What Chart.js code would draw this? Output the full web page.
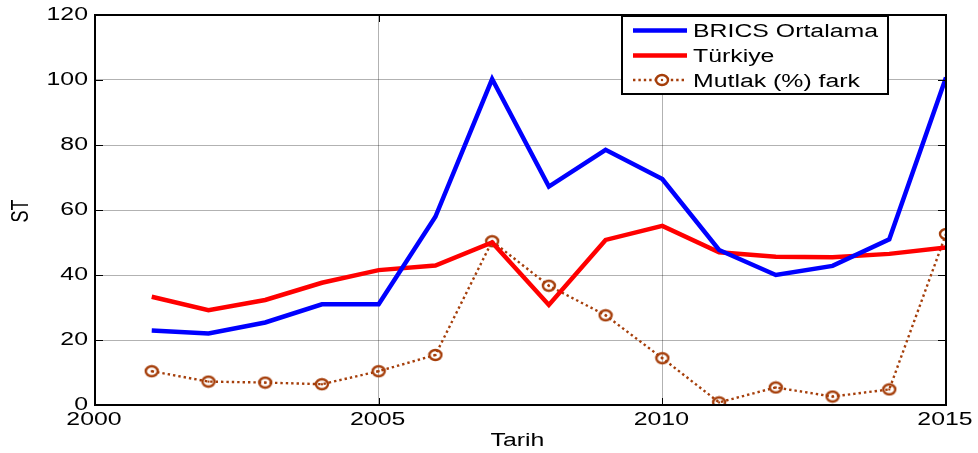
<!DOCTYPE html>
<html lang="tr">
<head>
<meta charset="UTF-8">
<title>BRICS - Türkiye</title>
<style>
  body { margin: 0; background: #fff; }
  #wrap { width: 978px; height: 453px; }
</style>
</head>
<body>
<div id="wrap"><canvas id="chart" width="978" height="453"></canvas></div>
<script src="https://cdn.jsdelivr.net/npm/chart.js"></script>
<script>
// data
var years = [2001, 2002, 2003, 2004, 2005, 2006, 2007, 2008, 2009, 2010, 2011, 2012, 2013, 2014, 2015]
var brics = [22.9, 22.0, 25.4, 31.0, 31.0, 57.9, 100.3, 67.2, 78.5, 69.5, 47.7, 40.0, 42.8, 51.0, 100.8]
var turkiye = [33.3, 29.2, 32.3, 37.6, 41.5, 42.9, 50.0, 30.8, 50.8, 55.1, 47.0, 45.6, 45.5, 46.5, 48.5]
var fark = [10.4, 7.2, 6.9, 6.4, 10.4, 15.4, 50.4, 36.7, 27.6, 14.4, 0.8, 5.4, 2.6, 4.8, 52.6]
var seriesNames = ['BRICS Ortalama', 'Türkiye', 'Mutlak (%) fark']
var xTicks = [2000, 2005, 2010, 2015]
var yTicks = [0, 20, 40, 60, 80, 100, 120]

var brown = 'rgb(165,62,10)'
var FONT = '18px "Liberation Sans", Arial, Helvetica, sans-serif'
var SX = 1.38   // the original picture is stretched sideways, text too

function pts(vals) {
  return vals.map(function (v, i) { return { x: years[i], y: v } })
}

// open (slightly wide) circle with a small dot inside, like matlab's 'o' marker
function makeMarker() {
  var c = document.createElement('canvas')
  c.width = 16; c.height = 14
  var g = c.getContext('2d')
  g.strokeStyle = brown
  g.lineWidth = 2.4
  g.beginPath(); g.ellipse(8, 7, 6, 5, 0, 0, Math.PI * 2); g.stroke()
  g.fillStyle = brown
  g.beginPath(); g.arc(8, 7, 1.2, 0, Math.PI * 2); g.fill()
  return c
}
var marker = makeMarker()

// stretched text helper
function txt(ctx, s, x, y, align, rot) {
  ctx.save()
  ctx.translate(x, y)
  ctx.scale(SX, 1)
  if (rot) ctx.rotate(rot)
  ctx.textAlign = align
  ctx.textBaseline = 'alphabetic'
  ctx.fillText(s, 0, 0)
  ctx.restore()
}

// box round the plot, inward ticks, tick labels and axis titles
var axesPlugin = {
  id: 'axes',
  afterDatasetsDraw: function (chart) {
    var ctx = chart.ctx, a = chart.chartArea
    var xs = chart.scales.x, ys = chart.scales.y
    ctx.save()
    ctx.strokeStyle = '#000'
    ctx.lineWidth = 1
    xTicks.forEach(function (t) {
      var px = Math.round(xs.getPixelForValue(t)) + 0.5
      ctx.beginPath()
      ctx.moveTo(px, a.bottom); ctx.lineTo(px, a.bottom - 7)
      ctx.moveTo(px, a.top); ctx.lineTo(px, a.top + 7)
      ctx.stroke()
    })
    yTicks.forEach(function (t) {
      var py = Math.round(ys.getPixelForValue(t)) + 0.5
      ctx.beginPath()
      ctx.moveTo(a.left, py); ctx.lineTo(a.left + 8, py)
      ctx.moveTo(a.right, py); ctx.lineTo(a.right - 8, py)
      ctx.stroke()
    })
    ctx.lineWidth = 2
    ctx.strokeRect(a.left, a.top, a.right - a.left, a.bottom - a.top)

    ctx.fillStyle = '#000'
    ctx.font = FONT
    xTicks.forEach(function (t) {
      txt(ctx, String(t), xs.getPixelForValue(t) - 1, a.bottom + 20, 'center')
    })
    yTicks.forEach(function (t) {
      txt(ctx, String(t), a.left - 7, ys.getPixelForValue(t) + 5, 'right')
    })
    txt(ctx, 'Tarih', (a.left + a.right) / 2 - 3, a.bottom + 41, 'center')
    txt(ctx, 'ST', 28, (a.top + a.bottom) / 2 + 1, 'center', -Math.PI / 2)
    ctx.restore()
  }
}

// matlab style legend in the top right corner
var legendPlugin = {
  id: 'mlegend',
  afterDraw: function (chart) {
    var ctx = chart.ctx
    var x0 = 622, y0 = 16, w = 266, h = 78
    ctx.save()
    ctx.fillStyle = '#fff'
    ctx.fillRect(x0, y0, w, h)
    ctx.strokeStyle = '#000'
    ctx.lineWidth = 2
    ctx.strokeRect(x0, y0, w, h)
    var rows = [30.5, 55.5, 80]
    ctx.font = FONT
    chart.data.datasets.forEach(function (ds, i) {
      var y = rows[i]
      ctx.strokeStyle = ds.borderColor
      ctx.lineWidth = ds.borderWidth
      ctx.setLineDash(ds.borderDash || [])
      ctx.beginPath(); ctx.moveTo(633, y); ctx.lineTo(687, y); ctx.stroke()
      ctx.setLineDash([])
      if (ds.pointRadius > 0) {
        ctx.fillStyle = '#fff'
        ctx.beginPath(); ctx.ellipse(662, y, 6, 5, 0, 0, Math.PI * 2); ctx.fill()
        ctx.drawImage(marker, 654, y - 7)
      }
      ctx.fillStyle = '#000'
      txt(ctx, ds.label, 693, y + 6.5, 'left')
    })
    ctx.restore()
  }
}

var ctx = document.getElementById('chart')
var chart = new Chart(ctx, {
  type: 'line',
  data: {
    datasets: [
      {
        label: seriesNames[0],
        data: pts(brics),
        borderColor: 'rgb(0,0,255)',
        borderWidth: 4.5,
        pointRadius: 0,
        tension: 0
      },
      {
        label: seriesNames[1],
        data: pts(turkiye),
        borderColor: 'rgb(255,0,0)',
        borderWidth: 4.5,
        pointRadius: 0,
        tension: 0
      },
      {
        label: seriesNames[2],
        data: pts(fark),
        borderColor: brown,
        borderWidth: 2.4,
        borderDash: [2.4, 3],
        pointStyle: marker,
        pointRadius: 6,
        tension: 0
      }
    ]
  },
  options: {
    responsive: false,
    animation: false,
    events: [],
    layout: { padding: { top: 15, right: 32, left: 0, bottom: 0 } },
    plugins: { legend: { display: false }, tooltip: { enabled: false } },
    scales: {
      x: {
        type: 'linear',
        min: 2000,
        max: 2015,
        afterBuildTicks: function (s) { s.ticks = xTicks.map(function (v) { return { value: v } }) },
        afterFit: function (s) { s.height = 48 },
        grid: { color: 'rgba(0,0,0,0.3)', drawTicks: false },
        border: { display: false },
        ticks: { display: false }
      },
      y: {
        min: 0,
        max: 120,
        afterBuildTicks: function (s) { s.ticks = yTicks.map(function (v) { return { value: v } }) },
        afterFit: function (s) { s.width = 95 },
        grid: { color: 'rgba(0,0,0,0.3)', drawTicks: false },
        border: { display: false },
        ticks: { display: false }
      }
    }
  },
  plugins: [axesPlugin, legendPlugin]
})
</script>
</body>
</html>
